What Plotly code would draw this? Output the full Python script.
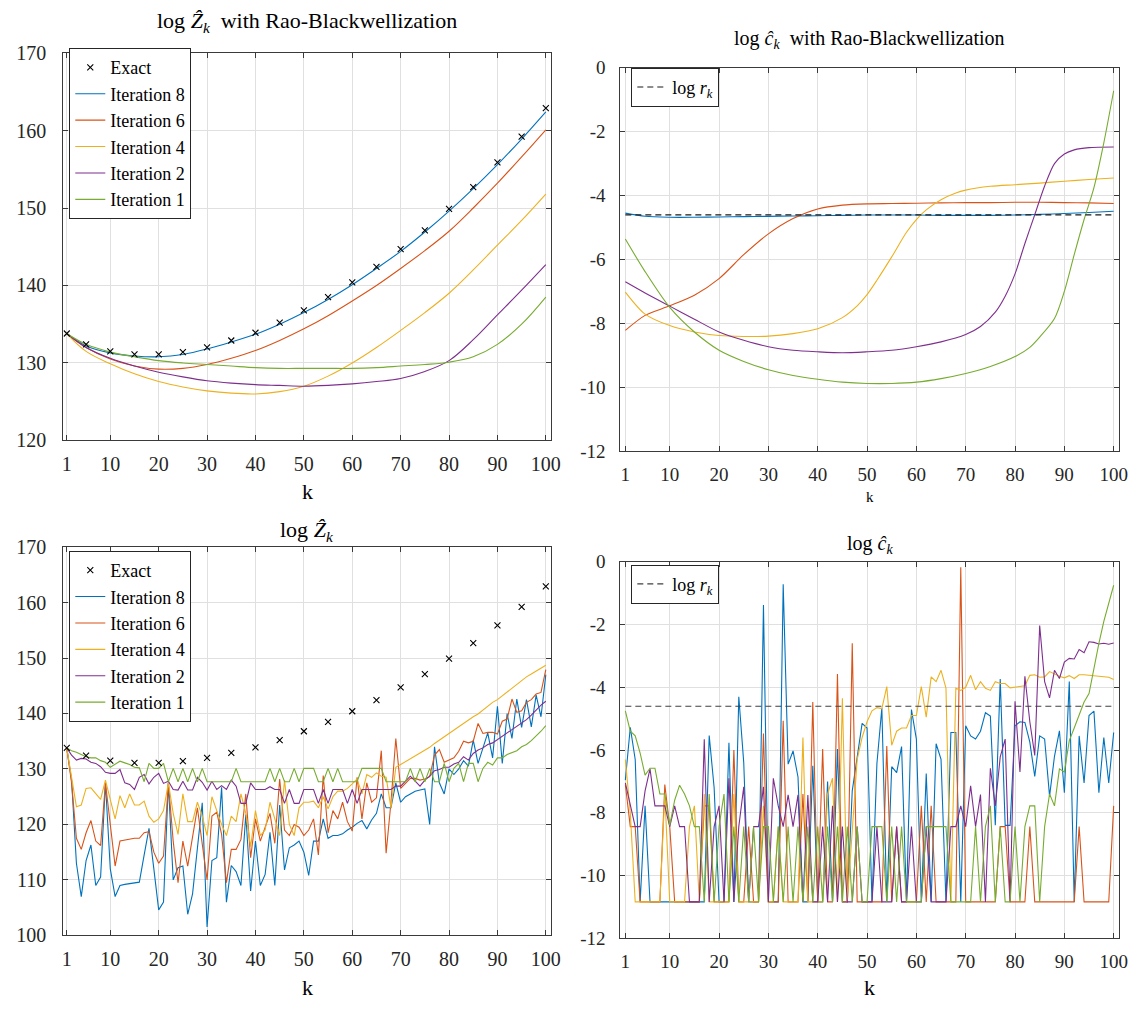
import plotly.graph_objects as go

W, H = 1139, 1009
FONT = "Liberation Serif"
AX = "#3a3a3a"
GRID = "#e0e0e0"
C8, C6, C4, C2, C1 = "#0072BD", "#D95319", "#EDB120", "#7E2F8E", "#77AC30"

# ---------------- data ----------------
k_all = list(range(1, 101))
k_exact = [1, 5, 10, 15, 20, 25, 30, 35, 40, 45, 50, 55, 60, 65, 70, 75, 80, 85, 90, 95, 100]
logZ_exact = [133.8, 132.4, 131.5, 131.1, 131.1, 131.4, 132.0, 132.9, 133.9, 135.2, 136.8,
              138.5, 140.4, 142.4, 144.7, 147.1, 149.9, 152.7, 155.9, 159.2, 162.9]

# Rao-Blackwellized log Z_k (top-left), at k_exact
rbZ_it8 = [133.8, 132.2, 131.3, 130.9, 130.8, 131.1, 131.8, 132.7, 133.7, 135.0, 136.5,
           138.2, 140.1, 142.2, 144.4, 146.9, 149.6, 152.5, 155.6, 158.9, 162.4]
rbZ_it6 = [133.8, 132.0, 130.5, 129.6, 129.2, 129.3, 129.8, 130.6, 131.6, 132.9, 134.4,
           136.1, 138.0, 140.0, 142.2, 144.5, 147.0, 150.0, 153.2, 156.6, 160.1]
rbZ_it4 = [133.8, 131.5, 129.9, 128.6, 127.6, 126.9, 126.4, 126.1, 126.0, 126.3, 127.0,
           128.3, 130.0, 132.0, 134.2, 136.5, 139.0, 142.0, 145.2, 148.4, 151.8]
rbZ_it2 = [133.8, 132.0, 130.6, 129.6, 128.8, 128.2, 127.7, 127.4, 127.2, 127.1, 127.0,
           127.1, 127.3, 127.6, 128.0, 128.9, 130.3, 133.0, 136.2, 139.4, 142.7]
rbZ_it1 = [133.8, 132.4, 131.4, 130.8, 130.3, 130.0, 129.8, 129.6, 129.4, 129.3, 129.3,
           129.3, 129.3, 129.4, 129.6, 129.8, 130.1, 130.8, 132.4, 135.0, 138.5]

# Rao-Blackwellized log c_k (top-right)
k_c8 = k_exact
rbc_it8 = [-4.55, -4.65, -4.68, -4.68, -4.67, -4.66, -4.65, -4.64, -4.63, -4.62, -4.61,
           -4.61, -4.61, -4.62, -4.62, -4.62, -4.61, -4.59, -4.56, -4.53, -4.49]
k_c6 = k_exact
rbc_it6 = [-8.22, -7.75, -7.45, -7.12, -6.6, -5.85, -5.2, -4.72, -4.42, -4.3, -4.26,
           -4.25, -4.24, -4.23, -4.22, -4.22, -4.21, -4.21, -4.22, -4.23, -4.25]
k_c4 = [1, 5, 10, 15, 20, 25, 30, 35, 40, 45, 48, 50, 52, 55, 58, 60, 62, 65, 68, 70,
        75, 80, 85, 90, 95, 100]
rbc_it4 = [-7.02, -7.71, -8.07, -8.27, -8.38, -8.41, -8.40, -8.32, -8.17, -7.82, -7.45,
           -7.1, -6.65, -5.92, -5.15, -4.75, -4.45, -4.13, -3.92, -3.83, -3.71, -3.66,
           -3.61, -3.55, -3.50, -3.45]
k_c2 = [1, 5, 10, 15, 20, 25, 30, 35, 40, 45, 50, 55, 60, 65, 70, 73, 76, 78, 80, 82,
        84, 86, 88, 90, 92, 95, 100]
rbc_it2 = [-6.70, -7.05, -7.46, -7.87, -8.27, -8.53, -8.73, -8.84, -8.89, -8.92, -8.89,
           -8.84, -8.73, -8.58, -8.35, -8.1, -7.65, -7.15, -6.45, -5.5, -4.6, -3.7, -3.0,
           -2.7, -2.57, -2.5, -2.48]
k_c1 = [1, 5, 10, 15, 20, 25, 30, 35, 40, 45, 50, 55, 60, 65, 70, 75, 80, 83, 85, 88,
        90, 92, 94, 96, 98, 100]
rbc_it1 = [-5.36, -6.38, -7.5, -8.27, -8.84, -9.19, -9.45, -9.63, -9.75, -9.84, -9.88,
           -9.88, -9.84, -9.73, -9.57, -9.35, -9.04, -8.75, -8.43, -7.85, -7.0, -5.85,
           -4.75, -3.75, -2.35, -0.72]
log_r = -4.605

# plain log Z_k (bottom-left), k = 1..100
Z_it8 = [133.8, 128.0, 113.0, 107.0, 113.5, 116.3, 109.0, 110.5, 127.5, 112.0,
         107.0, 109.0, 109.2, 109.3, 109.5, 109.6, 114.5, 119.3, 112.0, 104.6,
         106.0, 127.5, 110.0, 112.2, 112.5, 103.8, 107.5, 116.0, 123.9, 101.5,
         113.5, 114.0, 126.7, 106.0, 112.6, 111.5, 109.0, 121.8, 108.0, 117.0,
         109.0, 111.0, 118.6, 109.0, 123.5, 111.8, 115.8, 116.3, 117.0, 115.0,
         110.8, 117.0, 117.0, 121.0, 117.5, 118.0, 118.0, 118.3, 119.0, 119.5,
         120.2, 120.7, 119.2, 120.8, 122.0, 125.5, 123.0, 123.0, 127.5, 124.0,
         125.0, 125.5, 126.0, 126.2, 126.4, 120.0, 134.0, 127.5, 125.5, 130.0,
         129.0, 130.0, 131.5, 130.5, 135.2, 131.0, 133.6, 136.5, 132.0, 141.3,
         131.0, 140.0, 135.5, 142.6, 137.5, 142.5, 137.6, 143.3, 139.4, 147.0]
Z_it6 = [133.8, 127.5, 117.5, 115.5, 118.5, 120.7, 117.0, 116.2, 127.5, 120.0,
         112.5, 117.0, 117.2, 117.3, 117.5, 117.5, 118.5, 118.7, 115.0, 113.0,
         114.3, 127.5, 117.0, 109.5, 117.0, 112.5, 117.5, 123.0, 116.5, 110.0,
         121.5, 122.2, 118.2, 109.5, 115.5, 115.5, 117.3, 125.5, 114.0, 121.0,
         117.0, 119.5, 122.0, 116.6, 128.2, 119.0, 118.0, 120.0, 119.5, 118.0,
         119.0, 121.0, 114.5, 128.8, 118.5, 122.5, 121.0, 124.0, 120.5, 118.8,
         128.5, 121.0, 127.5, 124.0, 124.8, 133.3, 114.8, 124.0, 135.5, 126.5,
         127.5, 128.3, 128.3, 128.0, 128.2, 128.6, 132.5, 133.5, 131.2, 131.6,
         132.0, 133.2, 135.0, 134.7, 135.0, 138.2, 136.4, 136.6, 136.6, 136.3,
         138.6, 139.0, 142.6, 140.2, 140.5, 142.0, 142.5, 143.5, 143.8, 147.9]
Z_it4 = [133.8, 128.5, 123.2, 123.5, 126.5, 126.6, 125.5, 124.5, 128.0, 124.5,
         121.0, 125.2, 123.0, 125.5, 123.5, 123.5, 124.2, 121.5, 120.4, 121.0,
         122.5, 127.5, 122.0, 118.2, 125.5, 120.5, 120.5, 124.0, 121.5, 118.0,
         125.0, 122.5, 120.0, 118.0, 121.5, 120.5, 125.5, 122.0, 116.0, 122.5,
         118.0, 119.0, 124.0, 121.0, 118.0, 128.0, 120.0, 118.0, 123.0, 124.0,
         124.0, 124.2, 123.0, 125.0, 122.8, 125.0, 126.0, 126.0, 126.5, 127.3,
         128.2, 125.5, 129.0, 128.5, 129.3, 128.7, 128.5, 123.0, 130.3, 130.8,
         131.3, 131.8, 132.4, 132.9, 133.3, 133.9, 134.6, 135.2, 135.9, 136.5,
         137.0, 137.6, 138.3, 138.8, 139.4, 139.9, 140.6, 141.3, 142.0, 142.5,
         143.2, 143.9, 144.5, 145.2, 145.9, 146.6, 147.1, 147.6, 148.2, 148.7]
Z_it2 = [133.8, 132.5, 131.6, 131.9, 131.8, 131.2, 131.0, 130.4, 129.4, 129.2,
         129.2, 129.9, 127.5, 127.2, 126.3, 128.5, 129.0, 127.3, 128.5, 129.2,
         127.4, 127.8, 126.3, 126.2, 127.8, 126.2, 126.2, 128.5, 127.6, 126.2,
         127.8, 126.3, 127.0, 126.3, 128.0, 126.9, 123.8, 123.8, 127.5, 126.3,
         126.3, 126.3, 126.8, 126.3, 126.3, 123.8, 126.3, 123.8, 123.8, 126.3,
         126.3, 126.3, 123.8, 126.3, 123.8, 126.3, 126.3, 126.3, 123.8, 126.3,
         123.8, 126.3, 126.3, 126.3, 126.3, 126.3, 126.3, 126.3, 126.9, 126.9,
         127.8, 128.7, 127.8, 126.9, 128.0, 128.7, 129.7, 129.9, 130.3, 130.3,
         130.9, 131.2, 132.2, 131.6, 132.8, 133.4, 133.8, 134.4, 134.7, 135.3,
         135.8, 136.5, 137.0, 137.7, 138.3, 138.9, 139.7, 140.6, 141.5, 142.2]
Z_it1 = [133.8, 133.3, 133.0, 132.6, 132.2, 132.0, 132.0, 131.5, 131.2, 130.3,
         130.9, 131.4, 131.1, 130.8, 130.3, 130.2, 127.7, 131.0, 130.1, 130.1,
         131.0, 127.7, 130.1, 127.7, 130.1, 127.7, 130.1, 127.7, 130.1, 127.7,
         127.7, 127.7, 127.7, 127.7, 127.7, 130.1, 127.7, 127.7, 127.7, 127.7,
         127.7, 127.7, 130.1, 127.7, 130.1, 127.7, 127.7, 130.1, 127.7, 130.1,
         130.1, 130.1, 127.7, 127.7, 130.1, 127.7, 130.1, 127.7, 127.7, 127.7,
         127.7, 130.1, 130.1, 130.1, 130.1, 130.1, 127.7, 127.7, 127.7, 127.7,
         127.7, 130.1, 127.7, 130.1, 127.7, 130.1, 127.7, 127.7, 131.0, 127.7,
         130.1, 131.0, 127.7, 131.0, 131.0, 127.7, 130.1, 131.2, 130.7, 132.0,
         132.0, 132.6, 133.0, 133.3, 134.0, 134.4, 135.1, 135.9, 136.8, 137.8]

# plain log c_k (bottom-right), k = 1..100
c_it8 = [-6.96, -5.28, -6.3, -10.84, -7.78, -10.84, -10.84, -10.84, -10.84, -10.84,
         -10.84, -10.84, -10.84, -10.84, -10.84, -10.84, -10.84, -5.54, -7.2, -10.84,
         -10.84, -5.77, -10.84, -4.3, -6.4, -10.84, -10.84, -10.84, -1.38, -10.84,
         -10.84, -10.84, -0.72, -6.45, -6.03, -6.86, -10.84, -10.84, -6.5, -10.84,
         -10.84, -7.0, -10.84, -5.97, -10.84, -10.84, -7.3, -6.2, -5.15, -5.3,
         -10.84, -6.43, -4.66, -10.84, -6.53, -6.72, -5.89, -10.84, -4.71, -5.65,
         -10.84, -6.75, -10.84, -5.8, -6.3, -10.84, -5.44, -5.44, -10.84, -5.23,
         -5.55, -5.65, -5.4, -4.81, -4.92, -8.4, -3.74, -8.4, -8.4, -5.23,
         -5.1, -5.12, -5.75, -6.84, -5.55, -5.65, -7.47, -6.2, -5.39, -7.36,
         -3.82, -10.84, -5.55, -7.05, -4.9, -4.76, -7.36, -5.6, -7.05, -5.44]
c_it6 = [-7.1, -8.44, -8.44, -10.84, -10.84, -10.84, -10.84, -10.84, -7.1, -8.44,
         -10.84, -10.84, -10.84, -10.84, -10.84, -10.84, -7.78, -7.78, -10.84, -10.84,
         -10.84, -10.84, -6.0, -10.84, -10.84, -8.44, -10.84, -10.84, -5.47, -10.84,
         -10.84, -10.84, -5.07, -10.84, -10.84, -10.84, -7.4, -10.84, -4.47, -10.84,
         -5.97, -10.84, -10.84, -3.58, -10.84, -10.84, -2.6, -10.84, -10.84, -10.84,
         -10.84, -10.84, -10.84, -5.87, -10.84, -8.44, -10.84, -10.84, -10.84, -10.84,
         -7.78, -10.84, -7.78, -10.84, -10.84, -10.84, -10.84, -10.84, -0.18, -10.84,
         -10.84, -10.84, -10.84, -10.84, -10.84, -10.84, -8.44, -8.44, -10.84, -10.84,
         -10.84, -10.84, -8.44, -10.84, -10.84, -10.84, -10.84, -10.84, -10.84, -10.84,
         -10.84, -10.84, -8.44, -10.84, -10.84, -10.84, -10.84, -10.84, -10.84, -7.78]
c_it4 = [-6.3, -8.0, -10.84, -10.84, -10.84, -10.84, -10.84, -10.84, -7.4, -10.84,
         -10.84, -10.84, -10.84, -8.44, -7.78, -10.84, -7.4, -10.84, -10.84, -10.84,
         -10.84, -10.84, -7.4, -10.84, -10.84, -10.84, -10.84, -10.84, -7.78, -10.84,
         -10.84, -8.44, -10.84, -10.84, -10.84, -10.84, -5.6, -10.84, -10.84, -10.84,
         -10.84, -7.4, -6.9, -10.84, -4.35, -10.84, -8.44, -6.3, -5.6, -5.1,
         -4.75, -4.65, -4.68, -3.98, -5.85, -5.4, -5.3, -5.3, -4.9, -4.9,
         -3.98, -4.95, -3.67, -3.82, -3.46, -4.03, -10.84, -4.03, -4.1, -4.0,
         -3.62, -4.08, -3.82, -4.03, -4.1, -3.82, -3.88, -3.88, -4.02, -4.0,
         -3.98, -3.95, -3.62, -3.6, -3.68, -3.67, -3.5, -3.58, -3.65, -3.7,
         -3.63, -3.72, -3.6, -3.6, -3.62, -3.62, -3.66, -3.68, -3.68, -3.75]
c_it2 = [-7.05, -7.8, -8.44, -8.44, -7.3, -6.6, -7.78, -7.78, -7.78, -8.44,
         -7.78, -8.44, -8.44, -10.84, -10.84, -10.84, -5.66, -10.84, -8.44, -7.78,
         -10.84, -6.9, -10.84, -8.44, -7.17, -10.84, -8.44, -8.44, -7.17, -10.84,
         -6.9, -7.78, -8.44, -7.43, -8.44, -7.43, -10.84, -7.43, -10.84, -10.84,
         -8.44, -10.84, -7.78, -10.84, -8.44, -10.84, -10.84, -8.44, -10.84, -10.84,
         -10.84, -8.44, -10.84, -10.84, -10.84, -8.44, -10.84, -10.84, -8.44, -10.84,
         -10.84, -8.44, -10.84, -10.84, -10.84, -10.84, -8.44, -8.44, -7.78, -8.44,
         -7.14, -8.44, -7.42, -10.84, -6.58, -7.78, -6.22, -5.65, -10.84, -4.45,
         -6.7, -3.65, -5.1, -6.17, -2.03, -3.82, -4.34, -3.46, -3.72, -3.2,
         -3.08, -3.1, -2.8, -2.9, -2.55, -2.57, -2.62, -2.6, -2.63, -2.59]
c_it1 = [-4.75, -5.4, -5.55, -6.1, -6.8, -6.58, -6.58, -7.4, -7.4, -8.4,
         -7.6, -7.12, -7.4, -7.78, -8.44, -8.44, -10.84, -7.4, -10.84, -8.44,
         -7.4, -10.84, -8.44, -10.84, -8.44, -10.84, -8.44, -10.84, -8.44, -8.44,
         -10.84, -8.44, -10.84, -8.44, -10.84, -8.44, -10.84, -8.44, -10.84, -8.44,
         -10.84, -8.44, -10.84, -8.44, -10.84, -8.44, -10.84, -8.44, -10.84, -10.84,
         -8.44, -8.44, -8.44, -10.84, -8.44, -10.84, -8.44, -10.84, -10.84, -10.84,
         -10.84, -8.44, -8.44, -8.44, -8.44, -8.44, -10.84, -10.84, -10.84, -10.84,
         -10.84, -8.44, -10.84, -8.44, -7.78, -10.84, -8.44, -10.84, -10.84, -8.44,
         -10.84, -8.44, -7.78, -7.78, -10.84, -8.44, -7.4, -7.78, -6.6, -6.7,
         -5.7, -5.3, -4.85, -4.47, -4.2, -3.35, -2.6, -1.9, -1.3, -0.75]

labels = ["Iteration 8", "Iteration 6", "Iteration 4", "Iteration 2", "Iteration 1"]
colors = [C8, C6, C4, C2, C1]

# ---------------- layout geometry (pixels) ----------------
def xdom(a, b):
    return [a / W, b / W]

def ydom(top, bottom):
    return [1 - bottom / H, 1 - top / H]

L_X = (62, 555)
R_X = (625, 1129)

fig = go.Figure()

# ---- top-left ----
rb_Z = [rbZ_it8, rbZ_it6, rbZ_it4, rbZ_it2, rbZ_it1]
for i, (lab, col, ys) in enumerate(zip(labels, colors, rb_Z)):
    fig.add_trace(go.Scatter(x=k_exact, y=ys, mode="lines", name=lab,
                             line=dict(color=col, width=1.1, shape="spline", smoothing=1.0),
                             xaxis="x", yaxis="y", legend="legend", legendrank=2 + i))
fig.add_trace(go.Scatter(x=k_exact, y=logZ_exact, mode="markers", name="Exact",
                         marker=dict(symbol="x-thin", size=6, color="black",
                                     line=dict(color="black", width=1.1)),
                         xaxis="x", yaxis="y", legend="legend", legendrank=1))

# ---- top-right ----
rb_c = [(k_c8, rbc_it8), (k_c6, rbc_it6), (k_c4, rbc_it4), (k_c2, rbc_it2), (k_c1, rbc_it1)]
for lab, col, (kk, ys) in zip(labels, colors, rb_c):
    fig.add_trace(go.Scatter(x=kk, y=ys, mode="lines", name=lab, showlegend=False,
                             line=dict(color=col, width=1.1, shape="spline", smoothing=0.8),
                             xaxis="x2", yaxis="y2"))
fig.add_trace(go.Scatter(x=k_all, y=[log_r] * len(k_all), mode="lines",
                         name="log <i>r</i><sub><i>k</i></sub>",
                         line=dict(color="#1a1a1a", width=1.1, dash="6px,4px"),
                         xaxis="x2", yaxis="y2", legend="legend2"))

# ---- bottom-left ----
pl_Z = [Z_it8, Z_it6, Z_it4, Z_it2, Z_it1]
for i, (lab, col, ys) in enumerate(zip(labels, colors, pl_Z)):
    fig.add_trace(go.Scatter(x=k_all, y=ys, mode="lines", name=lab,
                             line=dict(color=col, width=1.1),
                             xaxis="x3", yaxis="y3", legend="legend3", legendrank=2 + i))
fig.add_trace(go.Scatter(x=k_exact, y=logZ_exact, mode="markers", name="Exact",
                         marker=dict(symbol="x-thin", size=6, color="black",
                                     line=dict(color="black", width=1.1)),
                         xaxis="x3", yaxis="y3", legend="legend3", legendrank=1))

# ---- bottom-right ----
pl_c = [c_it8, c_it6, c_it4, c_it2, c_it1]
for lab, col, ys in zip(labels, colors, pl_c):
    fig.add_trace(go.Scatter(x=k_all, y=ys, mode="lines", name=lab, showlegend=False,
                             line=dict(color=col, width=1.1),
                             xaxis="x4", yaxis="y4"))
fig.add_trace(go.Scatter(x=k_all, y=[log_r] * len(k_all), mode="lines",
                         name="log <i>r</i><sub><i>k</i></sub>",
                         line=dict(color="#404040", width=1.1, dash="6px,4px"),
                         xaxis="x4", yaxis="y4", legend="legend4"))

xticks = [1, 10, 20, 30, 40, 50, 60, 70, 80, 90, 100]
ytl = [120, 130, 140, 150, 160, 170]
ybl = [100, 110, 120, 130, 140, 150, 160, 170]
yr = [-12, -10, -8, -6, -4, -2, 0]
yr_text = ["-12", "-10", "-8", "-6", "-4", "-2", "0"]


def ax(dom, anchor, rng, tickvals, ticktext=None, size=20, standoff=8):
    d = dict(domain=dom, anchor=anchor, range=rng, tickmode="array", tickvals=tickvals,
             showline=True, linecolor=AX, linewidth=1, mirror="ticks", ticks="inside",
             ticklen=5, tickcolor=AX, showgrid=True, gridcolor=GRID, gridwidth=1,
             zeroline=False, tickfont=dict(family=FONT, size=size, color="#262626"),
             ticklabelstandoff=standoff)
    if ticktext is not None:
        d["ticktext"] = ticktext
    return d


legend_common = dict(bgcolor="white", bordercolor="#262626", borderwidth=1,
                     font=dict(family=FONT, size=18, color="black"), xanchor="left",
                     yanchor="top", itemwidth=30, tracegroupgap=0, traceorder="normal")

fig.update_layout(
    width=W, height=H, margin=dict(l=0, r=0, t=0, b=0),
    paper_bgcolor="white", plot_bgcolor="white", showlegend=True,
    font=dict(family=FONT, color="#262626"),
    xaxis=ax(xdom(*L_X), "y", [0.3, 101.1], xticks, size=20, standoff=6),
    yaxis=ax(ydom(43, 439), "x", [120, 170], ytl, size=20, standoff=12),
    xaxis2=ax(xdom(*R_X), "y2", [0.0, 101.1], xticks, size=19, standoff=6),
    yaxis2=ax(ydom(58, 450), "x2", [-12, 0], yr, yr_text, size=19, standoff=10),
    xaxis3=ax(xdom(*L_X), "y3", [0.3, 101.1], xticks, size=20, standoff=6),
    yaxis3=ax(ydom(548, 945), "x3", [100, 170], ybl, size=20, standoff=12),
    xaxis4=ax(xdom(*R_X), "y4", [0.0, 101.1], xticks, size=19, standoff=6),
    yaxis4=ax(ydom(563, 948), "x4", [-12, 0], yr, yr_text, size=19, standoff=10),
    legend=dict(legend_common, x=68 / W, y=1 - 38 / H),
    legend2=dict(legend_common, x=636 / W, y=1 - 58 / H),
    legend3=dict(legend_common, x=68 / W, y=1 - 552 / H),
    legend4=dict(legend_common, x=636 / W, y=1 - 566 / H),
)

def ann(text, xc, yc, size):
    fig.add_annotation(text=text, x=xc / W, y=1 - yc / H, xref="paper", yref="paper",
                       showarrow=False, xanchor="center", yanchor="middle",
                       font=dict(family=FONT, size=size, color="black"))

lc = (L_X[0] + L_X[1]) / 2
rc = (R_X[0] + R_X[1]) / 2
ann("log <i>Ẑ</i><sub><i>k</i></sub>  with Rao-Blackwellization", lc, 11, 22)
ann("log <i>ĉ</i><sub><i>k</i></sub>  with Rao-Blackwellization", rc, 29, 20)
ann("log <i>Ẑ</i><sub><i>k</i></sub>", lc, 532, 22)
ann("log <i>ĉ</i><sub><i>k</i></sub>", rc, 545, 20)
ann("k", lc, 491, 22)
ann("k", rc, 497, 15)
ann("k", lc, 998, 22)
ann("k", rc, 998, 22)

fig.write_html("out.html")
